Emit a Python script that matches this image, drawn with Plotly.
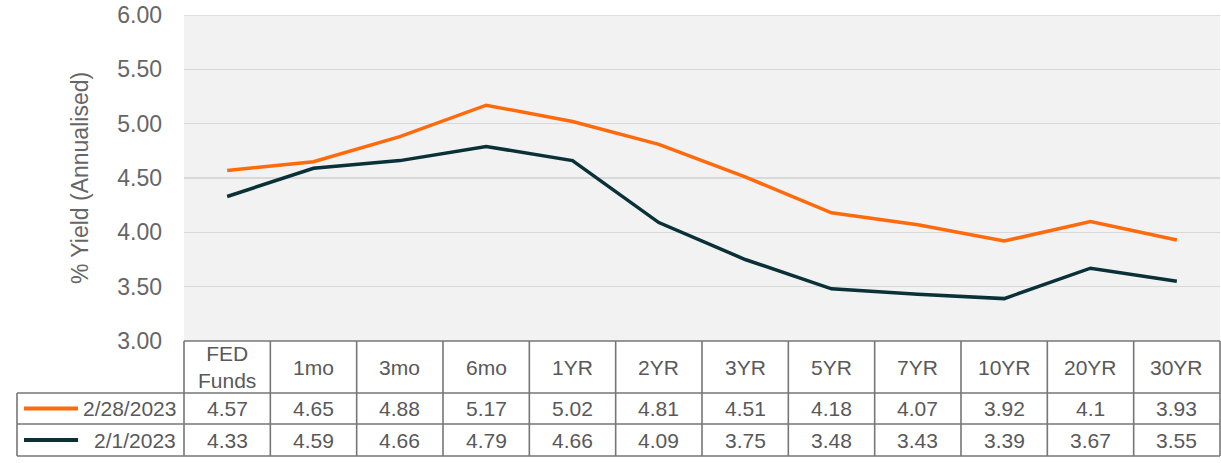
import plotly.graph_objects as go

categories = ["FED<br>Funds", "1mo", "3mo", "6mo", "1YR", "2YR", "3YR", "5YR", "7YR", "10YR", "20YR", "30YR"]
series_names = ["2/28/2023", "2/1/2023"]
feb28 = [4.57, 4.65, 4.88, 5.17, 5.02, 4.81, 4.51, 4.18, 4.07, 3.92, 4.1, 3.93]
feb01 = [4.33, 4.59, 4.66, 4.79, 4.66, 4.09, 3.75, 3.48, 3.43, 3.39, 3.67, 3.55]
value_labels = [
    ["4.57", "4.65", "4.88", "5.17", "5.02", "4.81", "4.51", "4.18", "4.07", "3.92", "4.1", "3.93"],
    ["4.33", "4.59", "4.66", "4.79", "4.66", "4.09", "3.75", "3.48", "3.43", "3.39", "3.67", "3.55"],
]
y_ticks = [3.0, 3.5, 4.0, 4.5, 5.0, 5.5, 6.0]
colors = ["#FF6A0D", "#0A3138"]

W, H = 1221, 463
# plot area in page pixels: left 184, right 1220, top 15, bottom 341
L, T = 184, 15
R = W - 1220
B = H - 341
pw, ph = W - L - R, H - T - B

def px_x(px):
    return (px - L) / pw

def px_y(py):
    return (H - B - py) / ph

fig = go.Figure()
n = len(categories)
xs = list(range(n))
for name, vals, c in zip(series_names, [feb28, feb01], colors):
    fig.add_trace(go.Scatter(x=xs, y=vals, mode="lines", name=name,
                             line=dict(color=c, width=3.5), showlegend=False, hoverinfo="skip"))

border = "#767676"
bw = 1.6
font_txt = dict(family="Liberation Sans, Arial", size=21, color="#595959")

shapes = []
ann = []
row_y = [341, 393, 424, 456]  # table row boundaries in page px
first_left = 17
# top gridline (edge of plot area)
shapes.append(dict(type="line", xref="paper", yref="y", x0=0, x1=1, y0=y_ticks[-1], y1=y_ticks[-1],
                   line=dict(color="#D9D9D9", width=1.5), layer="below"))
shapes.append(dict(type="line", xref="paper", yref="paper", x0=0, x1=1, y0=px_y(row_y[0]), y1=px_y(row_y[0]), line=dict(color=border, width=bw)))
for ry in row_y[1:]:
    shapes.append(dict(type="line", xref="paper", yref="paper", x0=px_x(first_left), x1=1, y0=px_y(ry), y1=px_y(ry), line=dict(color=border, width=bw)))
for i in range(n + 1):
    shapes.append(dict(type="line", xref="paper", yref="paper", x0=i / n, x1=i / n, y0=px_y(row_y[0]), y1=px_y(row_y[3]), line=dict(color=border, width=bw)))
shapes.append(dict(type="line", xref="paper", yref="paper", x0=px_x(first_left), x1=px_x(first_left), y0=px_y(row_y[1]), y1=px_y(row_y[3]), line=dict(color=border, width=bw)))

for i, cat in enumerate(categories):
    ann.append(dict(xref="paper", yref="paper", x=(i + 0.5) / n, y=px_y((row_y[0] + row_y[1]) / 2),
                    text=cat, showarrow=False, font=font_txt, xanchor="center", yanchor="middle"))
for r, (name, labels, c) in enumerate(zip(series_names, value_labels, colors)):
    yc = px_y((row_y[r + 1] + row_y[r + 2]) / 2)
    for i, lab in enumerate(labels):
        ann.append(dict(xref="paper", yref="paper", x=(i + 0.5) / n, y=yc,
                        text=lab, showarrow=False, font=font_txt, xanchor="center", yanchor="middle"))
    ann.append(dict(xref="paper", yref="paper", x=px_x(178), y=yc, text=name, showarrow=False,
                    font=font_txt, xanchor="right", yanchor="middle"))
    shapes.append(dict(type="line", xref="paper", yref="paper", x0=px_x(24), x1=px_x(78), y0=yc, y1=yc,
                       line=dict(color=c, width=4)))

fig.update_layout(
    width=W, height=H,
    margin=dict(l=L, r=R, t=T, b=B, autoexpand=False),
    paper_bgcolor="white",
    plot_bgcolor="#F2F2F2",
    shapes=shapes,
    annotations=ann,
    hovermode=False,
    xaxis=dict(range=[-0.5, n - 0.5], showticklabels=False, showgrid=False, zeroline=False, showline=False,
               fixedrange=True, automargin=False),
    yaxis=dict(range=[2.9999, 6.0001], tickmode="array", tickvals=y_ticks, tickformat=".2f",
               showgrid=True, gridcolor="#D9D9D9", gridwidth=1.5, ticklabeloverflow="allow",
               automargin=False, fixedrange=True,
               zeroline=False, showline=False, ticks="", ticklabelstandoff=21,
               tickfont=dict(family="Liberation Sans, Arial", size=23, color="#666666"),
               title=dict(text="% Yield (Annualised)", standoff=22,
                          font=dict(family="Liberation Sans, Arial", size=23, color="#666666"))),
    showlegend=False,
)

fig.write_html("out.html", config={"displayModeBar": False, "staticPlot": True},
               post_script="document.body.style.margin='0';document.body.style.overflow='hidden';")
